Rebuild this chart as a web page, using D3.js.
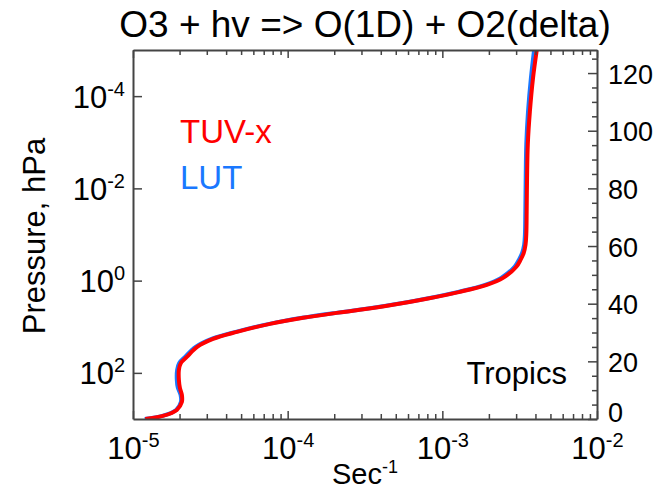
<!DOCTYPE html>
<html>
<head>
<meta charset="utf-8">
<script src="https://cdn.jsdelivr.net/npm/d3@7"></script>
<style>
    body { margin: 0; background: #fff; }
    text { font-family: "Liberation Sans", Arial, Helvetica, sans-serif; fill: #000; }
</style>
</head>
<body>
<svg id="chart" width="661" height="494"></svg>
<script>
// pressure levels (hPa), top of plot to surface
const pressure = [1e-5, 4.0e-5, 2.2e-4, 1.1e-3, 5.9e-3, 0.032, 0.1, 0.167, 0.25, 0.35, 0.5, 0.87,
    1.23, 1.75, 2.48, 3.35, 4.3, 5.0, 6.4, 8.65, 12.9, 18.3,
    27.3, 45, 61, 86, 142, 211, 300, 426, 635, 857, 995];

// photolysis rates, sec^-1
const jTuvx = [4.08e-3, 3.86e-3, 3.68e-3, 3.57e-3, 3.53e-3, 3.51e-3, 3.49e-3, 3.45e-3, 3.36e-3, 3.21e-3, 3.01e-3, 2.47e-3,
    1.94e-3, 1.30e-3, 7.94e-4, 4.80e-4, 2.93e-4, 2.08e-4, 1.26e-4, 7.69e-5, 4.70e-5, 3.29e-5,
    2.60e-5, 2.23e-5, 2.04e-5, 1.98e-5, 1.98e-5, 2.01e-5, 2.07e-5, 2.07e-5, 1.92e-5, 1.56e-5, 1.20e-5];
const jLut = [3.92e-3, 3.74e-3, 3.58e-3, 3.49e-3, 3.46e-3, 3.44e-3, 3.42e-3, 3.38e-3, 3.28e-3, 3.13e-3, 2.93e-3, 2.40e-3,
    1.89e-3, 1.27e-3, 7.80e-4, 4.72e-4, 2.89e-4, 2.05e-4, 1.24e-4, 7.60e-5, 4.62e-5, 3.22e-5,
    2.54e-5, 2.17e-5, 1.99e-5, 1.93e-5, 1.92e-5, 1.95e-5, 2.03e-5, 2.04e-5, 1.90e-5, 1.55e-5, 1.19e-5];

const xExponents = [-5, -4, -3, -2];
const yExponents = [-4, -2, 0, 2];
const altTicks = [0, 20, 40, 60, 80, 100, 120];

const series = [
    {name: "LUT", j: jLut, color: "#1a78ff"},
    {name: "TUV-x", j: jTuvx, color: "#ff0000"}
];

let margin = {top: 50, right: 64, bottom: 75, left: 133},
    width = 661 - margin.left - margin.right,
    height = 494 - margin.top - margin.bottom;

let svg = d3.select("#chart");
let g = svg.append("g").attr("transform", "translate(" + margin.left + "," + margin.top + ")");

let x = d3.scaleLog().domain([1e-5, 1e-2]).range([0, width]);
let y = d3.scaleLog().domain([1000, 1e-5]).range([height, 0]);
let alt = d3.scaleLinear().domain([0, 128]).range([height, 0]);

// minor log ticks 2..9 for x
let xMinor = [];
[-5, -4, -3].forEach(e => {
    for (let k = 2; k <= 9; k++) xMinor.push(k * Math.pow(10, e));
});
let altMinor = d3.range(0, 129, 5).filter(v => v % 20 !== 0);

let frameColor = "#444";

// clip for curves
g.append("clipPath").attr("id", "clip")
    .append("rect").attr("width", width).attr("height", height);

// curves
let line = d3.line()
    .x(d => x(d[0]))
    .y(d => y(d[1]))
    .curve(d3.curveCatmullRom.alpha(0.5));

g.append("g").attr("clip-path", "url(#clip)")
    .selectAll("path")
    .data(series)
    .join("path")
    .attr("fill", "none")
    .attr("stroke", d => d.color)
    .attr("stroke-width", 4)
    .attr("stroke-linejoin", "round")
    .attr("d", d => line(d.j.map((v, i) => [v, pressure[i]])));

function styleAxis(sel) {
    sel.select(".domain").attr("stroke", frameColor).attr("stroke-width", 2);
    sel.selectAll(".tick line").attr("stroke", frameColor).attr("stroke-width", 1.5);
}

// bottom axis
let xMajorVals = xExponents.map(e => Math.pow(10, e));
let bottomAxis = g.append("g").attr("transform", "translate(0," + height + ")")
    .call(d3.axisBottom(x).tickValues(xMajorVals).tickSizeInner(-8).tickSizeOuter(0).tickFormat(""));
g.append("g").attr("transform", "translate(0," + height + ")")
    .call(d3.axisBottom(x).tickValues(xMinor).tickSizeInner(-5).tickSizeOuter(0).tickFormat(""))
    .call(s => s.select(".domain").remove())
    .call(styleAxis);
styleAxis(bottomAxis);
bottomAxis.selectAll(".tick").append("text")
    .attr("y", 40)
    .attr("text-anchor", "middle")
    .style("font-size", "31px")
    .each(function (d) {
        let t = d3.select(this);
        t.append("tspan").text("10");
        t.append("tspan").attr("dy", -12).style("font-size", "20px").text(Math.round(Math.log10(d)));
    });

// top axis
let topAxis = g.append("g")
    .call(d3.axisTop(x).tickValues(xMajorVals).tickSizeInner(-8).tickSizeOuter(0).tickFormat(""));
styleAxis(topAxis);
g.append("g")
    .call(d3.axisTop(x).tickValues(xMinor).tickSizeInner(-5).tickSizeOuter(0).tickFormat(""))
    .call(s => s.select(".domain").remove())
    .call(styleAxis);

// left axis
let leftAxis = g.append("g")
    .call(d3.axisLeft(y).tickValues(yExponents.map(e => Math.pow(10, e))).tickSizeInner(-9).tickSizeOuter(0).tickFormat(""));
styleAxis(leftAxis);
leftAxis.selectAll(".tick").append("text")
    .attr("x", -8)
    .attr("y", 11)
    .attr("text-anchor", "end")
    .style("font-size", "31px")
    .each(function (d) {
        let t = d3.select(this);
        t.append("tspan").text("10");
        t.append("tspan").attr("dy", -12).style("font-size", "20px").text(Math.round(Math.log10(d)));
    });

// right axis (altitude)
let rightAxis = g.append("g").attr("transform", "translate(" + width + ",0)")
    .call(d3.axisRight(alt).tickValues(altTicks).tickSizeInner(-9).tickSizeOuter(0).tickFormat(""));
styleAxis(rightAxis);
g.append("g").attr("transform", "translate(" + width + ",0)")
    .call(d3.axisRight(alt).tickValues(altMinor).tickSizeInner(-5).tickSizeOuter(0).tickFormat(""))
    .call(s => s.select(".domain").remove())
    .call(styleAxis);
rightAxis.selectAll(".tick").append("text")
    .attr("x", 11)
    .attr("y", d => d === 0 ? 2 : 10)
    .attr("text-anchor", "start")
    .style("font-size", "27px")
    .text(d => d);

// title
svg.append("text")
    .attr("x", margin.left + width / 2)
    .attr("y", 37)
    .attr("text-anchor", "middle")
    .style("font-size", "37px")
    .text("O3 + hv => O(1D) + O2(delta)");

// axis titles
svg.append("text")
    .attr("transform", "translate(45," + (margin.top + 186) + ") rotate(-90)")
    .attr("text-anchor", "middle")
    .style("font-size", "31px")
    .text("Pressure, hPa");

let xTitle = svg.append("text")
    .attr("x", margin.left + width / 2)
    .attr("y", 484)
    .attr("text-anchor", "middle")
    .style("font-size", "29px");
xTitle.append("tspan").text("Sec");
xTitle.append("tspan").attr("dy", -11).style("font-size", "18px").text("-1");

// legend
svg.selectAll(".legend")
    .data(series.slice().reverse())
    .join("text")
    .attr("class", "legend")
    .attr("x", 180)
    .attr("y", (d, i) => 143 + i * 46)
    .style("font-size", "33px")
    .style("fill", d => d.color)
    .text(d => d.name);

svg.append("text")
    .attr("x", 567)
    .attr("y", 384)
    .attr("text-anchor", "end")
    .style("font-size", "31px")
    .text("Tropics");
</script>
</body>
</html>
